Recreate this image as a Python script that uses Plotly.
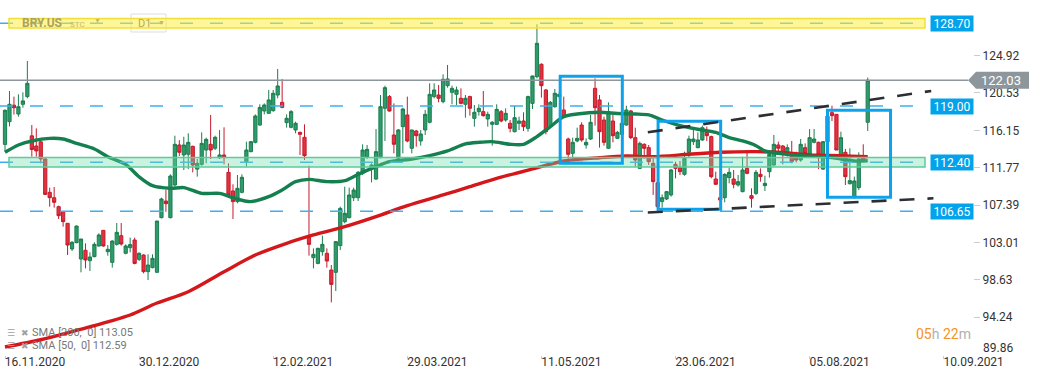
import plotly.graph_objects as go

# ---------------- data ----------------
opens = [114.50, 117.16, 119.10, 118.06, 119.20, 120.10, 115.50, 114.31, 114.80, 112.79,
         108.88, 108.25, 107.20, 106.60, 105.25, 102.24, 102.98, 101.06, 102.08, 100.87,
         101.34, 102.59, 104.42, 101.92, 100.67, 102.78, 103.80, 101.73, 102.39, 103.29,
         101.02, 101.53, 99.58, 100.05, 99.50, 105.91, 107.86, 105.91, 109.74, 114.43,
         113.26, 113.34, 114.27, 111.60, 112.16, 113.84, 114.51, 114.04, 112.94, 113.26,
         111.22, 109.04, 107.79, 108.88, 112.47, 113.65, 114.74, 116.77, 118.41, 118.14,
         118.45, 120.29, 119.43, 117.05, 116.50, 116.19, 115.91, 115.33, 103.68, 101.22,
         100.55, 101.92, 101.73, 99.77, 99.50, 102.63, 105.44, 105.91, 108.25, 108.25,
         111.11, 113.06, 111.60, 110.44, 112.94, 118.73, 120.10, 115.60, 112.87, 116.58,
         117.95, 114.04, 116.07, 114.90, 116.19, 117.09, 120.10, 120.29, 119.51, 121.38,
         120.60, 120.37, 119.90, 119.20, 120.10, 117.55, 118.34, 118.34, 117.48, 116.85,
         116.85, 118.34, 117.36, 116.97, 115.99, 116.97, 117.24, 116.38, 119.31, 122.44,
         123.89, 120.88, 116.70, 118.92, 120.10, 118.53, 115.13, 113.45, 114.90, 116.77,
         114.43, 115.13, 121.07, 119.71, 117.36, 114.04, 117.24, 115.21, 115.68, 116.77,
         118.41, 115.29, 111.69, 114.51, 114.12, 112.28, 110.00, 107.79, 108.10, 108.57,
         112.16, 111.77, 110.99, 113.57, 114.82, 114.12, 115.02, 115.91, 115.41, 110.44,
         108.25, 108.25, 110.60, 110.44, 109.74, 108.96, 111.69, 108.49, 108.76, 110.99,
         109.66, 111.30, 112.08, 114.43, 114.31, 113.26, 113.26, 113.06, 112.67, 114.12,
         113.34, 114.74, 114.74, 111.60, 114.80, 118.22, 118.02, 112.87, 113.57, 109.89,
         108.25, 109.43, 113.06, 117.09]
highs = [118.60, 120.76, 120.10, 120.37, 120.60, 124.28, 116.77, 116.38, 115.13, 112.87,
         109.43, 109.50, 107.32, 106.69, 105.25, 103.17, 104.97, 103.41, 102.90, 101.85,
         103.02, 104.07, 104.46, 102.70, 103.25, 105.28, 105.28, 102.78, 103.56, 103.56,
         101.85, 101.61, 101.61, 101.61, 105.52, 108.25, 109.15, 110.99, 115.52, 115.00,
         115.40, 115.80, 114.35, 112.79, 115.91, 115.29, 117.95, 115.52, 116.19, 116.50,
         112.28, 109.82, 110.91, 110.99, 114.82, 114.90, 118.02, 119.20, 119.31, 120.88,
         120.88, 123.34, 122.17, 118.02, 118.53, 117.16, 115.99, 116.85, 112.00, 102.31,
         102.39, 103.80, 102.31, 100.36, 103.17, 107.20, 109.54, 109.43, 109.43, 111.38,
         114.51, 114.43, 112.28, 116.30, 120.29, 121.38, 120.29, 119.31, 116.30, 118.80,
         120.10, 116.19, 116.19, 116.19, 118.53, 121.66, 121.66, 121.46, 122.71, 123.81,
         121.38, 121.27, 121.07, 120.29, 120.21, 119.12, 119.20, 120.76, 118.34, 117.24,
         119.20, 118.53, 118.73, 117.36, 119.04, 117.75, 118.26, 120.21, 122.56, 128.58,
         124.00, 121.00, 119.59, 121.00, 120.68, 120.10, 115.29, 115.29, 116.46, 117.09,
         115.21, 117.95, 122.24, 120.29, 117.75, 119.43, 118.02, 116.07, 117.09, 119.04,
         118.53, 116.46, 114.82, 114.62, 114.43, 112.87, 110.30, 108.64, 109.04, 111.62,
         112.47, 112.55, 113.65, 115.52, 116.46, 115.91, 116.70, 116.58, 115.52, 111.30,
         108.37, 111.11, 111.77, 111.50, 110.91, 113.06, 113.73, 109.35, 111.50, 111.69,
         110.83, 113.65, 115.60, 114.82, 114.43, 114.51, 114.90, 113.65, 115.13, 114.62,
         116.30, 116.30, 114.82, 114.90, 118.50, 119.04, 118.02, 115.99, 113.96, 114.04,
         110.72, 113.57, 114.51, 122.33]
lows = [113.65, 116.60, 118.00, 117.75, 118.80, 119.90, 113.06, 113.06, 112.28, 108.57,
        107.20, 107.08, 105.75, 104.85, 101.53, 102.00, 102.90, 99.50, 99.97, 99.66,
        101.26, 102.51, 102.51, 101.45, 100.05, 102.63, 102.63, 101.61, 101.85, 100.44,
        100.83, 99.38, 98.60, 99.97, 99.50, 105.83, 106.60, 105.83, 109.54, 113.14,
        111.50, 111.60, 111.22, 110.72, 112.00, 112.28, 112.79, 113.84, 112.79, 112.16,
        108.25, 105.75, 107.59, 108.76, 111.89, 113.57, 114.62, 116.70, 118.02, 118.06,
        118.34, 119.90, 118.73, 116.46, 116.38, 115.80, 113.26, 112.67, 101.45, 99.97,
        100.44, 101.45, 100.05, 95.98, 97.31, 102.12, 105.25, 105.83, 107.86, 107.86,
        110.91, 112.79, 110.05, 110.32, 112.87, 114.90, 118.34, 113.45, 112.79, 113.45,
        114.74, 113.45, 114.23, 114.35, 115.60, 116.97, 119.90, 119.43, 119.31, 121.15,
        119.20, 119.12, 119.20, 117.63, 117.87, 116.58, 117.87, 117.75, 116.58, 114.35,
        116.77, 117.09, 117.16, 115.91, 115.91, 116.19, 116.07, 115.99, 118.65, 122.24,
        119.98, 115.68, 116.46, 118.80, 119.98, 117.63, 112.79, 112.87, 114.74, 114.82,
        114.00, 115.02, 116.70, 114.12, 114.35, 114.00, 114.74, 115.13, 115.60, 116.70,
        115.13, 111.89, 111.60, 112.87, 112.08, 108.57, 106.70, 107.08, 107.98, 108.37,
        110.52, 110.91, 110.83, 112.94, 114.43, 114.04, 114.90, 114.90, 110.52, 109.74,
        107.86, 107.71, 109.93, 109.35, 109.54, 108.88, 110.99, 107.08, 108.57, 110.13,
        109.04, 110.60, 112.00, 113.65, 112.16, 113.06, 112.28, 112.39, 112.47, 113.26,
        113.26, 114.62, 111.60, 111.50, 114.60, 117.24, 113.84, 112.79, 109.74, 109.80,
        108.18, 109.15, 112.47, 116.07]
closes = [118.50, 119.20, 118.80, 118.92, 119.60, 121.66, 113.90, 113.73, 112.79, 108.64,
          108.25, 107.71, 106.14, 105.44, 102.70, 103.02, 104.93, 103.41, 100.95, 101.30,
          102.78, 103.88, 102.59, 102.20, 103.17, 104.19, 102.82, 102.59, 102.75, 100.55,
          101.73, 99.58, 100.36, 101.14, 105.52, 108.10, 107.55, 110.79, 114.51, 113.57,
          114.43, 114.74, 112.08, 112.28, 114.62, 115.09, 113.84, 115.33, 113.26, 112.94,
          108.57, 107.79, 109.35, 110.64, 113.84, 114.82, 117.83, 118.84, 119.12, 119.71,
          120.49, 121.35, 118.84, 117.56, 118.34, 116.97, 115.68, 113.18, 102.78, 101.61,
          102.31, 102.78, 100.83, 98.09, 103.10, 107.00, 106.42, 108.57, 109.15, 111.22,
          113.84, 113.92, 112.08, 113.65, 118.92, 121.15, 118.41, 114.51, 116.19, 118.65,
          114.90, 116.19, 115.52, 115.72, 118.02, 120.37, 120.88, 119.90, 122.13, 122.17,
          121.07, 120.88, 119.31, 119.90, 118.73, 118.26, 118.73, 117.87, 118.02, 117.09,
          118.61, 117.24, 118.14, 116.38, 117.63, 117.24, 116.58, 120.10, 122.52, 126.35,
          121.38, 115.99, 119.43, 120.49, 120.37, 117.75, 113.34, 114.74, 115.21, 115.02,
          114.74, 117.09, 118.80, 115.99, 114.74, 118.34, 115.52, 115.91, 116.97, 118.53,
          115.29, 112.67, 114.62, 114.04, 112.47, 110.13, 107.20, 108.25, 108.96, 111.50,
          111.69, 111.30, 112.87, 115.13, 115.13, 115.02, 116.46, 115.52, 110.72, 109.82,
          107.98, 110.99, 111.22, 109.82, 110.13, 111.50, 111.11, 108.18, 111.22, 110.72,
          109.93, 113.34, 114.51, 114.04, 113.57, 114.12, 112.47, 112.67, 114.51, 113.45,
          115.29, 115.13, 113.26, 114.82, 117.80, 117.87, 113.84, 115.29, 110.72, 110.25,
          110.21, 112.79, 112.67, 122.03]
bar_index = list(range(len(closes)))

tick_index = [0, 30, 60, 90, 120, 150, 180, 210]
tick_labels = ["16.11.2020", "30.12.2020", "12.02.2021", "29.03.2021",
               "11.05.2021", "23.06.2021", "05.08.2021", "10.09.2021"]
price_ticks = [124.92, 120.53, 116.15, 111.77, 107.39, 103.01, 98.63, 94.24]
bottom_price_tick = 89.86

sma50_index = [0, 3, 6, 10, 13, 16, 20, 23, 27, 30, 33, 37, 40, 44, 48, 51, 55, 59, 62, 65,
               68, 72, 76, 79, 83, 86, 91, 95, 99, 103, 106, 109, 113, 116, 119, 122, 125,
               128, 133, 137, 141, 144, 147, 150, 153, 156, 159, 162, 165, 168, 170, 173,
               178, 183, 187, 190, 193]
sma50_values = [113.57, 114.43, 114.90, 115.21, 115.13, 114.62, 113.96, 113.06, 112.16, 110.70,
                109.66, 109.35, 109.43, 108.76, 108.76, 108.25, 107.79, 108.37, 109.15, 110.13,
                110.40, 110.13, 110.25, 110.99, 111.89, 112.47, 112.79, 113.18, 113.73, 114.55,
                114.74, 114.82, 114.51, 114.51, 115.41, 116.58, 117.75, 118.06, 118.26, 118.12,
                118.06, 117.95, 117.36, 116.85, 116.46, 116.19, 115.91, 115.29, 114.90, 114.35,
                113.73, 113.45, 113.18, 113.06, 112.79, 112.55, 112.59]
sma200_index = [0, 8, 16, 23, 28, 34, 41, 49, 56, 63, 69, 76, 83, 90, 98, 104, 110, 118, 125,
                133, 139, 145, 153, 160, 168, 173, 180, 187, 193]
sma200_values = [90.75, 91.60, 92.70, 93.70, 94.50, 95.90, 97.23, 99.57, 101.53, 102.90,
                 103.88, 104.85, 106.03, 107.32, 108.57, 109.54, 110.52, 111.62, 112.55,
                 112.94, 113.14, 113.06, 113.34, 113.57, 113.65, 113.57, 113.26, 113.18, 113.05]
sma50_label = "SMA [50,\u00a0 0] 112.59"
sma200_label = "SMA [200,\u00a0 0] 113.05"

level_lines = [128.70, 119.00, 112.40, 106.65]
level_zones = [(128.70, "rgba(255,236,70,0.55)", "#f2df36"),
               (112.40, "rgba(110,220,170,0.36)", "#5ccc9a")]
# drawn rectangles: (first bar, last bar, low price, high price)
rect_marks = [(124.2, 138.1, 112.29, 122.49),
              (146.1, 160.1, 106.89, 117.20),
              (184.0, 198.1, 108.31, 118.50)]
# drawn trend lines: (bar0, price0, bar1, price1)
trend_lines = [(143.8, 115.92, 207.2, 120.76),
               (143.8, 106.51, 207.7, 108.18)]

# ---------------- layout geometry ----------------
W, H = 1041, 379
ML, MR, MT, MB = 0, 68, 0, 24
PW, PH = W - ML - MR, H - MT - MB
X_RANGE = [-1.119, 216.55]
Y_RANGE = [89.809, 131.427]


def px_x(px):
    return (px - ML) / PW


def px_y(py):
    return 1 - (py - MT) / PH


def val_to_py(v):
    return MT + (Y_RANGE[1] - v) / (Y_RANGE[1] - Y_RANGE[0]) * PH


FONT = "Roboto"

fig = go.Figure()
fig.add_trace(go.Candlestick(
    x=bar_index, open=opens, high=highs, low=lows, close=closes,
    increasing=dict(line=dict(color="#1c7d50", width=1), fillcolor="#2e9c6a"),
    decreasing=dict(line=dict(color="#c41b2c", width=1), fillcolor="#e2323f"),
    whiskerwidth=0, hoverinfo="skip", showlegend=False))
fig.add_trace(go.Scatter(x=sma200_index, y=sma200_values, mode="lines",
                         line=dict(color="#d3171b", width=3.4, shape="spline", smoothing=0.8),
                         hoverinfo="skip", showlegend=False))
fig.add_trace(go.Scatter(x=sma50_index, y=sma50_values, mode="lines",
                         line=dict(color="#15804f", width=3.4, shape="spline", smoothing=0.8),
                         hoverinfo="skip", showlegend=False))

shapes = []
# timeframe box (under the yellow zone)
shapes.append(dict(type="rect", xref="paper", yref="paper",
                   x0=px_x(131), x1=px_x(166), y0=px_y(32), y1=px_y(14),
                   line=dict(color="#dddddd", width=1), fillcolor="rgba(0,0,0,0)"))
# dashed level lines
for lv in level_lines:
    shapes.append(dict(type="line", xref="paper", yref="y", x0=0, x1=px_x(925), y0=lv, y1=lv,
                       line=dict(color="#3daeee", width=1.5, dash="13px,17px")))
# zones
for lv, fc, lc in level_zones:
    shapes.append(dict(type="rect", xref="paper", yref="y", x0=px_x(9), x1=px_x(925),
                       y0=lv - 0.55, y1=lv + 0.55, fillcolor=fc, line=dict(color=lc, width=1.5)))
# current price line
last = closes[-1]
shapes.append(dict(type="line", xref="paper", yref="y", x0=0, x1=px_x(968), y0=last, y1=last,
                   line=dict(color="#8d969a", width=1.5)))
# rectangles
for b0, b1, lo, hi in rect_marks:
    shapes.append(dict(type="rect", xref="x", yref="y", x0=b0, x1=b1, y0=lo, y1=hi,
                       line=dict(color="#0ea2ea", width=3), fillcolor="rgba(0,0,0,0)"))
# trend lines
for b0, p0, b1, p1 in trend_lines:
    shapes.append(dict(type="line", xref="x", yref="y", x0=b0, y0=p0, x1=b1, y1=p1,
                       line=dict(color="#2b2f33", width=2.6, dash="15px,13px")))
# price tag
py = val_to_py(last)
path = "M {} {} L {} {} L {} {} L {} {} L {} {} Z".format(
    px_x(968), px_y(py), px_x(976), px_y(py - 8.5), px_x(1029), px_y(py - 8.5),
    px_x(1029), px_y(py + 8.5), px_x(976), px_y(py + 8.5))
shapes.append(dict(type="path", xref="paper", yref="paper", path=path,
                   fillcolor="#8d969a", line=dict(width=0)))

ann = []
# level labels
for lv in level_lines:
    ann.append(dict(xref="paper", yref="y", x=px_x(952), y=lv, text="{:.2f}".format(lv),
                    showarrow=False, xanchor="center", yanchor="middle", width=42, height=15,
                    bgcolor="#03a3ec", font=dict(family=FONT, size=12, color="white"),
                    borderpad=0))
ann.append(dict(xref="paper", yref="paper", x=px_x(1001), y=px_y(py), text="{:.2f}".format(last),
                showarrow=False, xanchor="center", yanchor="middle",
                font=dict(family=FONT, size=13, color="white")))
ann.append(dict(xref="paper", yref="paper", x=px_x(981), y=px_y(348), text="{:.2f}".format(bottom_price_tick),
                showarrow=False, xanchor="left", yanchor="middle",
                font=dict(family=FONT, size=12, color="#333333")))
# top-left instrument label
ann.append(dict(xref="paper", yref="paper", x=px_x(20), y=px_y(23), text="<b>BRY.US</b>",
                showarrow=False, xanchor="left", yanchor="middle",
                font=dict(family=FONT, size=12, color="#aaa35c")))
ann.append(dict(xref="paper", yref="paper", x=px_x(68), y=px_y(24), text="STC",
                showarrow=False, xanchor="left", yanchor="middle",
                font=dict(family=FONT, size=8, color="#c2ba72")))
ann.append(dict(xref="paper", yref="paper", x=px_x(92), y=px_y(21), text="▼",
                showarrow=False, xanchor="left", yanchor="middle",
                font=dict(family=FONT, size=7, color="#c2ba72")))
ann.append(dict(xref="paper", yref="paper", x=px_x(136), y=px_y(23), text="D1",
                showarrow=False, xanchor="left", yanchor="middle",
                font=dict(family=FONT, size=11, color="#b3ab62")))
ann.append(dict(xref="paper", yref="paper", x=px_x(156), y=px_y(23), text="▼",
                showarrow=False, xanchor="left", yanchor="middle",
                font=dict(family=FONT, size=7, color="#c2ba72")))
# SMA legend
for yy, lab in ((332.5, sma200_label), (345.5, sma50_label)):
    ann.append(dict(xref="paper", yref="paper", x=px_x(5), y=px_y(yy), text="☰",
                    showarrow=False, xanchor="left", yanchor="middle",
                    font=dict(family="DejaVu Sans", size=9, color="#a0a0a0")))
    ann.append(dict(xref="paper", yref="paper", x=px_x(19), y=px_y(yy), text="✖",
                    showarrow=False, xanchor="left", yanchor="middle",
                    font=dict(family="DejaVu Sans", size=9, color="#a0a0a0")))
    ann.append(dict(xref="paper", yref="paper", x=px_x(30), y=px_y(yy), text=lab,
                    showarrow=False, xanchor="left", yanchor="middle",
                    font=dict(family=FONT, size=11, color="#777777")))
# timer
ann.append(dict(xref="paper", yref="paper", x=px_x(914), y=px_y(334),
                text="<span style='color:#f7941d'>05</span><span style='color:#b0b0b0'>h </span>"
                     "<span style='color:#f7941d'>22</span><span style='color:#b0b0b0'>m</span>",
                showarrow=False, xanchor="left", yanchor="middle",
                font=dict(family=FONT, size=14, color="#f7941d")))

fig.update_layout(
    width=W, height=H, margin=dict(l=ML, r=MR, t=MT, b=MB),
    paper_bgcolor="white", plot_bgcolor="white",
    shapes=shapes, annotations=ann, showlegend=False,
    boxgap=0.28, boxgroupgap=0,
    xaxis=dict(range=X_RANGE, rangeslider=dict(visible=False), showgrid=False, zeroline=False,
               tickmode="array", tickvals=tick_index, ticktext=tick_labels,
               ticks="outside", ticklen=3, tickcolor="#cccccc", ticklabelshift=30,
               ticklabelstandoff=-7,
               tickfont=dict(family=FONT, size=12, color="#333333"), showline=False),
    yaxis=dict(range=Y_RANGE, side="right", showgrid=False, zeroline=False,
               tickmode="array", tickvals=price_ticks, ticktext=["{:.2f}".format(v) for v in price_ticks],
               ticks="outside", ticklen=6, tickcolor="#cccccc",
               tickfont=dict(family=FONT, size=12, color="#333333"), showline=False),
)
fig.write_html("out.html", config={"displayModeBar": False},
               post_script="document.body.style.margin='0';document.body.style.overflow='hidden';")
